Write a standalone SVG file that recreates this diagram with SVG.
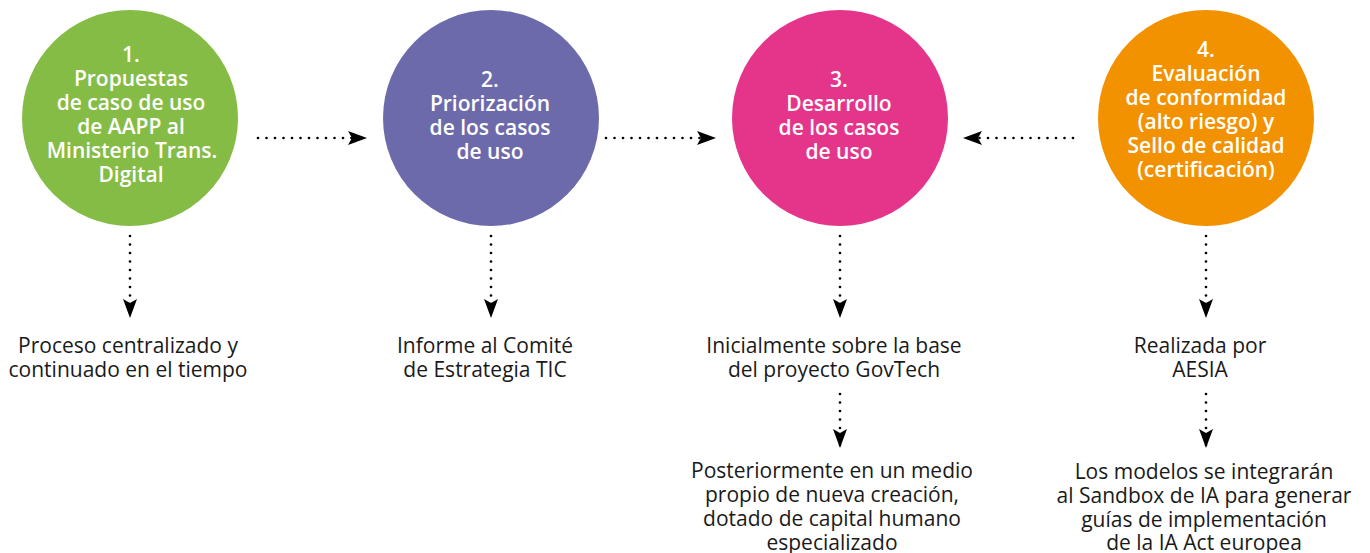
<svg xmlns="http://www.w3.org/2000/svg" width="1370" height="553" viewBox="0 0 1370 553">
<style>
.bg{fill:#ffffff}
.ct{font-family:"Open Sans","Noto Sans",sans-serif;font-size:21px;font-weight:600;fill:#ffffff;text-anchor:middle}
.bt{font-family:"Open Sans","Noto Sans",sans-serif;font-size:21px;font-weight:400;fill:#1a1a1a;text-anchor:middle}
.dot{fill:none;stroke:#000000;stroke-width:2.7;stroke-linecap:round;stroke-dasharray:0 8.5}
</style>
<defs>
<marker id="ah" viewBox="0 0 19 14" refX="19" refY="7" markerWidth="19" markerHeight="14" markerUnits="userSpaceOnUse" orient="auto">
<path d="M0,0 L19,7 L0,14 L4,7 Z" fill="#000000"/>
</marker>
</defs>
<rect class="bg" x="0" y="0" width="1370" height="553"/>

<g id="connectors">
<line class="dot" x1="258" y1="138" x2="367" y2="138" marker-end="url(#ah)"/>
<line class="dot" x1="606" y1="138" x2="716" y2="138" marker-end="url(#ah)"/>
<line class="dot" x1="1073" y1="138" x2="963" y2="138" marker-end="url(#ah)"/>
<line class="dot" x1="130" y1="236" x2="130" y2="318" marker-end="url(#ah)"/>
<line class="dot" x1="491" y1="236" x2="491" y2="318" marker-end="url(#ah)"/>
<line class="dot" x1="840" y1="236" x2="840" y2="318" marker-end="url(#ah)"/>
<line class="dot" x1="1206" y1="236" x2="1206" y2="318" marker-end="url(#ah)"/>
<line class="dot" x1="840" y1="394" x2="840" y2="448" marker-end="url(#ah)"/>
<line class="dot" x1="1206" y1="394" x2="1206" y2="448" marker-end="url(#ah)"/>
</g>

<g id="node1">
<circle cx="130" cy="118" r="108" fill="#85bc46"/>
<text class="ct" x="131" y="62">1.</text>
<text class="ct" x="131" y="86">Propuestas</text>
<text class="ct" x="131" y="110">de caso de uso</text>
<text class="ct" x="131" y="134">de AAPP al</text>
<text class="ct" x="132" y="158">Ministerio Trans.</text>
<text class="ct" x="131" y="182">Digital</text>
</g>
<g id="node2">
<circle cx="491" cy="118" r="108" fill="#6d6aab"/>
<text class="ct" x="490" y="87">2.</text>
<text class="ct" x="490" y="111">Priorización</text>
<text class="ct" x="490" y="135">de los casos</text>
<text class="ct" x="490" y="159">de uso</text>
</g>
<g id="node3">
<circle cx="840" cy="118" r="108" fill="#e4358b"/>
<text class="ct" x="839" y="87">3.</text>
<text class="ct" x="839" y="111">Desarrollo</text>
<text class="ct" x="839" y="135">de los casos</text>
<text class="ct" x="839" y="159">de uso</text>
</g>
<g id="node4">
<circle cx="1206" cy="118" r="108" fill="#f39200"/>
<text class="ct" x="1206" y="57">4.</text>
<text class="ct" x="1206" y="81">Evaluación</text>
<text class="ct" x="1206" y="105">de conformidad</text>
<text class="ct" x="1206" y="129">(alto riesgo) y</text>
<text class="ct" x="1206" y="153">Sello de calidad</text>
<text class="ct" x="1206" y="177">(certificación)</text>
</g>

<g id="text1">
<text class="bt" x="128" y="353">Proceso centralizado y</text>
<text class="bt" x="128" y="377">continuado en el tiempo</text>
</g>
<g id="text2">
<text class="bt" x="485" y="353">Informe al Comité</text>
<text class="bt" x="485" y="377">de Estrategia TIC</text>
</g>
<g id="text3">
<text class="bt" x="834" y="353">Inicialmente sobre la base</text>
<text class="bt" x="834" y="377">del proyecto GovTech</text>
</g>
<g id="text3b">
<text class="bt" x="832" y="478">Posteriormente en un medio</text>
<text class="bt" x="832" y="502">propio de nueva creación,</text>
<text class="bt" x="832" y="526">dotado de capital humano</text>
<text class="bt" x="832" y="550">especializado</text>
</g>
<g id="text4">
<text class="bt" x="1200" y="353">Realizada por</text>
<text class="bt" x="1200" y="377">AESIA</text>
</g>
<g id="text4b">
<text class="bt" x="1204" y="479">Los modelos se integrarán</text>
<text class="bt" x="1204" y="503">al Sandbox de IA para generar</text>
<text class="bt" x="1204" y="527">guías de implementación</text>
<text class="bt" x="1204" y="550">de la IA Act europea</text>
</g>
</svg>
